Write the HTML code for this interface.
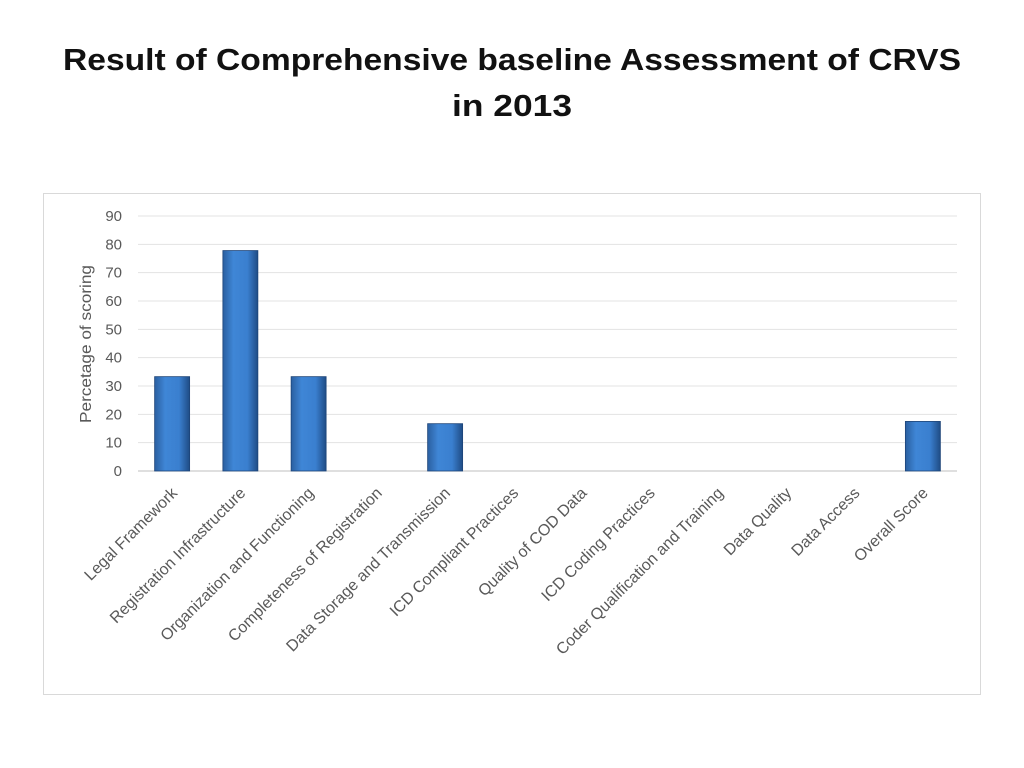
<!DOCTYPE html>
<html><head><meta charset="utf-8"><style>body{margin:0;background:#fff}svg{display:block}</style></head>
<body>
<svg id="c" width="1024" height="768" xmlns="http://www.w3.org/2000/svg" font-family="Liberation Sans, sans-serif">
<defs><linearGradient id="bg" x1="0" x2="1" y1="0" y2="0"><stop offset="0" stop-color="#2a5fa0"/><stop offset="0.3" stop-color="#3f86d6"/><stop offset="0.7" stop-color="#3a7fcf"/><stop offset="1" stop-color="#1f4c85"/></linearGradient></defs>
<text x="512" y="70" text-anchor="middle" font-size="31" font-weight="bold" fill="#111" textLength="898" lengthAdjust="spacingAndGlyphs">Result of Comprehensive baseline Assessment of CRVS</text>
<text x="512" y="116" text-anchor="middle" font-size="31" font-weight="bold" fill="#111" textLength="120" lengthAdjust="spacingAndGlyphs">in 2013</text>
<rect x="43.5" y="193.5" width="937" height="501" fill="#fff" stroke="#d9d9d9"/>
<text transform="translate(91,344) rotate(-90)" text-anchor="middle" font-size="16" fill="#595959" textLength="158" lengthAdjust="spacingAndGlyphs">Percetage of scoring</text>
<g id="grid"></g><g id="bars"></g><g id="labels"></g>
</svg>
<script>
const categories=["Legal Framework","Registration Infrastructure","Organization and Functioning","Completeness of Registration","Data Storage and Transmission","ICD Compliant Practices","Quality of COD Data","ICD Coding Practices","Coder Qualification and Training","Data Quality","Data Access","Overall Score"];
const values=[33.3,77.8,33.3,0,16.7,0,0,0,0,0,0,17.5];
const yTicks=[0,10,20,30,40,50,60,70,80,90];
const NS="http://www.w3.org/2000/svg";
const x0=138,x1=957,y0=471,y90=216;
const y=v=>y0-(v/90)*(y0-y90);
const band=(x1-x0)/categories.length;
const xc=i=>x0+band*(i+0.5);
function mk(t,a,p){const e=document.createElementNS(NS,t);for(const k in a)e.setAttribute(k,a[k]);p.appendChild(e);return e;}
const g=document.getElementById('grid'),b=document.getElementById('bars'),l=document.getElementById('labels');
yTicks.forEach(v=>{
 const ln=mk('line',{x1:x0,x2:x1,y1:y(v),y2:y(v),stroke:v===0?'#bfbfbf':'#e3e3e3','stroke-width':1},g);
 
 
 const t=mk('text',{x:122,y:y(v)+5,'text-anchor':'end','font-size':15,fill:'#595959'},g);
 t.textContent=v;
 
 
});
values.forEach((v,i)=>{
 if(v<=0)return;
 const r=mk('rect',{x:xc(i)-17.5,y:y(v),width:35,height:y0-y(v),fill:'url(#bg)',stroke:'#1d4478','stroke-width':0.8},b);
 
 
});
categories.forEach((c,i)=>{
 const px=xc(i)+6,py=494;
 const t=mk('text',{x:px,y:py,'text-anchor':'end','font-size':16,fill:'#595959',transform:`rotate(-45 ${px} ${py})`},l);
 t.textContent=c;
 
 
});
</script>
</body></html>
